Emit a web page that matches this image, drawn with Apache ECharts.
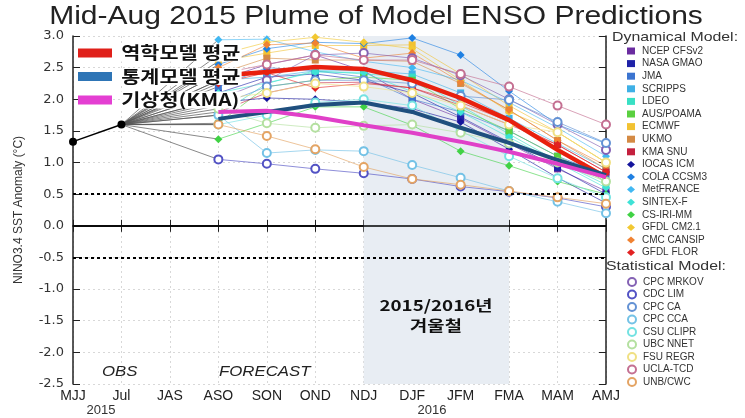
<!DOCTYPE html>
<html><head><meta charset="utf-8">
<script src="https://cdn.jsdelivr.net/npm/echarts@6/dist/echarts.min.js"></script>
<style>html,body{margin:0;padding:0;background:#fff}#c{width:745px;height:418px}</style>
</head><body><div id="c"></div>
<script>
const categories = ['MJJ','Jul','JAS','ASO','SON','OND','NDJ','DJF','JFM','FMA','MAM','AMJ'];
const yTicks = [-2.5,-2.0,-1.5,-1.0,-0.5,0.0,0.5,1.0,1.5,2.0,2.5,3.0];
const obsValues = [1.33, 1.6];
const FSTART = 3; // forecasts start at ASO

// Dynamical models (ASO .. AMJ)
const dynNames = ['NCEP CFSv2','NASA GMAO','JMA','SCRIPPS','LDEO','AUS/POAMA','ECMWF','UKMO','KMA SNU','IOCAS ICM','COLA CCSM3','MetFRANCE','SINTEX-F','CS-IRI-MM','GFDL CM2.1','CMC CANSIP','GFDL FLOR'];
const ncep      = [2.30, 2.55, 2.70, 2.45, 2.00, 1.70, 1.30, 0.90, 0.55];
const nasa      = [2.10, 2.35, 2.40, 2.30, 2.10, 1.72, 1.32, 0.92, 0.50];
const jma       = [2.20, 2.50, 2.45, 2.35, 2.00, 1.80, 1.50, 1.10, 0.80];
const scripps   = [2.30, 2.35, 2.45, 2.45, 2.40, 2.10, 1.70, 1.30, 0.90];
const ldeo      = [1.75, 2.25, 2.45, 2.40, 2.35, 1.90, 1.45, 1.02, 0.65];
const poama     = [1.62, 2.20, 2.30, 2.35, 2.30, 1.85, 1.50, 1.10, 0.70];
const ecmwf     = [2.60, 2.73, 2.85, 2.85, 2.86, 2.40, 1.90, 1.48, 1.00];
const ukmo      = [2.40, 2.65, 2.62, 2.62, 2.60, 2.25, 1.83, 1.35, 0.90];
const kmasnu    = [1.80, 2.10, 2.26, 2.27, 2.18, 1.90, 1.60, 1.28, 0.85];
const iocas     = [1.95, 2.02, 2.00, 1.95, 1.85, 1.64, 1.21, 0.76, 0.36];
const cola      = [2.55, 2.80, 2.90, 2.88, 2.97, 2.70, 2.13, 1.60, 1.30];
const metfrance = [2.94, 2.95, 2.75, 2.60, 2.50, 2.30, 1.95, 1.55, 1.10];
const sintex    = [2.10, 2.26, 2.43, 2.42, 2.12, 1.80, 1.40, 1.00, 0.60];
const csirimm   = [1.37, 1.62, 1.88, 1.88, 1.59, 1.18, 0.95, 0.70, 0.50];
const gfdlcm21  = [2.70, 2.90, 2.98, 2.90, 2.80, 2.30, 1.80, 1.48, 1.00];
const cmccansip = [2.50, 2.86, 2.89, 2.65, 2.73, 2.27, 1.83, 1.35, 0.95];
const gfdlflor  = [2.25, 2.42, 2.18, 2.25, 2.18, 1.95, 1.65, 1.28, 0.85];
const dynValues = [ncep,nasa,jma,scripps,ldeo,poama,ecmwf,ukmo,kmasnu,iocas,cola,metfrance,sintex,csirimm,gfdlcm21,cmccansip,gfdlflor];
const dynColors = ['#6a2ca0','#1f22a8','#3b74d0','#3fb0e6','#38e0c4','#5ad040','#f2c232','#d48a44','#c4203e','#14149c','#1f80e2','#42b8f2','#3ee2d6','#40d244','#f2c832','#f08232','#e22222'];
const dynIcons = ['rect','rect','rect','rect','rect','rect','rect','rect','rect','diamond','diamond','diamond','diamond','diamond','diamond','diamond','diamond'];

// Statistical models (ASO .. AMJ)
const statNames = ['CPC MRKOV','CDC LIM','CPC CA','CPC CCA','CSU CLIPR','UBC NNET','FSU REGR','UCLA-TCD','UNB/CWC'];
const mrkov  = [2.00, 2.30, 2.70, 2.73, 2.65, 2.38, 2.00, 1.60, 1.20];
const cdclim = [1.05, 0.98, 0.90, 0.83, 0.74, 0.62, 0.54, 0.44, 0.30];
const cpcca  = [1.90, 2.20, 2.30, 2.30, 2.25, 2.05, 1.99, 1.64, 1.31];
const cpccca = [1.75, 1.15, 1.20, 1.18, 0.96, 0.76, 0.55, 0.38, 0.20];
const csu    = [1.60, 1.75, 1.95, 2.00, 1.90, 1.50, 1.10, 0.75, 0.45];
const ubc    = [1.85, 1.62, 1.55, 1.58, 1.60, 1.47, 1.30, 1.00, 0.70];
const fsu    = [2.00, 2.10, 2.25, 2.20, 2.10, 1.90, 1.60, 1.48, 1.00];
const ucla   = [2.40, 2.55, 2.70, 2.62, 2.62, 2.40, 2.20, 1.90, 1.60];
const unb    = [1.60, 1.42, 1.21, 0.93, 0.74, 0.65, 0.55, 0.45, 0.35];
const statValues = [mrkov,cdclim,cpcca,cpccca,csu,ubc,fsu,ucla,unb];
const statColors = ['#8462b4','#5252c4','#6492d4','#74c2e6','#74e2e2','#b4e0a0','#f0e084','#c47092','#e4a464'];

// Means
const dynMean  = [2.37, 2.43, 2.51, 2.48, 2.30, 2.02, 1.67, 1.20, 0.77];
const statMean = [1.69, 1.80, 1.91, 1.95, 1.80, 1.55, 1.31, 1.04, 0.80];
const kmaMean  = [1.80, 1.82, 1.72, 1.59, 1.47, 1.33, 1.17, 0.98, 0.77];
const meanNames = ['역학모델 평균','통계모델 평균','기상청(KMA)'];
const meanColors = ['#e8200e','#1f4f7e','#e040c8'];
const meanKeyColors = ['#e0201a','#2e75b6','#e43fd2'];

const FONT = '"Liberation Sans", Arial, "Noto Sans CJK KR", sans-serif';
const KFONT = '"Noto Sans CJK KR", "Liberation Sans", sans-serif';

function full(vals){ const a = new Array(categories.length).fill(null); vals.forEach((v,i)=>a[FSTART+i]=v); return a; }
function conn(vals){ const a = new Array(categories.length).fill(null); a[1]=obsValues[1]; a[FSTART]=vals[0]; return a; }

const series = [];
dynValues.concat(statValues).forEach((v,i)=>{
  series.push({type:'line', name:'_c'+i, data:conn(v), connectNulls:true, symbol:'none', silent:true,
    lineStyle:{color:'#555', width:0.7}, z:2});
});
dynValues.forEach((v,i)=>{
  series.push({type:'line', name:dynNames[i], data:full(v), symbol:dynIcons[i], symbolSize:dynIcons[i]==='diamond'?8:7,
    itemStyle:{color:dynColors[i]}, lineStyle:{color:dynColors[i], width:1, opacity:0.6}, z:3});
});
statValues.forEach((v,i)=>{
  series.push({type:'line', name:statNames[i], data:full(v), symbol:'emptyCircle', symbolSize:8,
    itemStyle:{color:statColors[i], borderWidth:1.5}, lineStyle:{color:statColors[i], width:1, opacity:0.65}, z:3});
});
series.push({type:'line', name:'OBS', data:obsValues, symbol:'circle', symbolSize:8,
  itemStyle:{color:'#000'}, lineStyle:{color:'#000', width:1.5}, z:6,
  markArea:{silent:true, itemStyle:{color:'#e8edf3'}, data:[[{xAxis:'NDJ'},{xAxis:'FMA'}]]},
  markLine:{silent:true, symbol:'none', label:{show:false},
    data:[
      {yAxis:0, lineStyle:{color:'#000', width:1.5, type:'solid'}},
      {yAxis:0.5, lineStyle:{color:'#000', width:2, type:[3,3]}},
      {yAxis:-0.5, lineStyle:{color:'#000', width:2, type:[3,3]}}
    ]}
});
[dynMean, statMean, kmaMean].forEach((m,i)=>{
  series.push({type:'line', name:meanNames[i], data:full(m), symbol:'none',
    lineStyle:{color:meanColors[i], width:i===0?4.5:4}, itemStyle:{color:meanKeyColors[i]}, z:8});
});

const keyGraphics = [];
meanNames.forEach((n,i)=>{
  const cy = 53 + i*23.5;
  keyGraphics.push({type:'rect', z:100, shape:{x:78, y:cy-4.5, width:34, height:9}, style:{fill:meanKeyColors[i]}});
  keyGraphics.push({type:'text', z:101, x:120, y:cy, scaleX:1.22, style:{text:n, font:'bold 17px '+KFONT, fill:'#111',
    textVerticalAlign:'middle', backgroundColor:'#fff', padding:[0,1,0,1]}});
});

const chart = echarts.init(document.getElementById('c'), null, {renderer:'canvas'});
chart.setOption({
  animation:false,
  backgroundColor:'#fff',
  textStyle:{fontFamily:FONT},
  grid:{left:73, right:139, top:36, bottom:34},
  xAxis:[
    {type:'category', data:categories, boundaryGap:false, position:'bottom',
      axisLine:{lineStyle:{color:'#222', width:1.5}}, axisTick:{inside:true, length:6, lineStyle:{color:'#222'}},
      axisLabel:{fontSize:14, color:'#222', margin:5, fontFamily:FONT},
      splitLine:{show:true, lineStyle:{color:'#d8d8d8', type:[2,3], width:1}}},
    {type:'category', data:categories, boundaryGap:false, position:'top',
      axisLine:{lineStyle:{color:'#222', width:1.5}}, axisTick:{inside:true, length:6, lineStyle:{color:'#222'}},
      axisLabel:{show:false}, splitLine:{show:false}}
  ],
  yAxis:[
    {type:'value', min:yTicks[0], max:yTicks[yTicks.length-1], interval:0.5, position:'left',
      name:'NINO3.4 SST Anomaly (°C)', nameLocation:'middle', nameGap:48, nameRotate:90,
      nameTextStyle:{fontSize:12, color:'#333', fontFamily:FONT},
      axisLine:{show:true, lineStyle:{color:'#222', width:1.5}}, axisTick:{show:true, inside:true, length:7, lineStyle:{color:'#222'}},
      axisLabel:{fontSize:13, color:'#333', margin:9, formatter:v=>v.toFixed(1), fontFamily:'"DejaVu Sans", sans-serif'},
      splitLine:{show:true, lineStyle:{color:'#d8d8d8', type:[2,3], width:1}}},
    {type:'value', min:yTicks[0], max:yTicks[yTicks.length-1], interval:0.5, position:'right',
      axisLine:{show:true, lineStyle:{color:'#222', width:1.5}}, axisTick:{show:true, inside:true, length:7, lineStyle:{color:'#222'}},
      axisLabel:{show:false}, splitLine:{show:false}}
  ],
  legend:[
    {orient:'vertical', left:622, top:40, itemWidth:8, itemHeight:7, itemGap:0.6, selectedMode:false,
      data:dynNames.map((n,i)=>({name:n, icon:dynIcons[i]})),
      textStyle:{fontSize:10, color:'#333', lineHeight:12, fontFamily:FONT, padding:[0,0,0,2]}},
    {orient:'vertical', left:622, top:271, itemWidth:8, itemHeight:8, itemGap:0.5, selectedMode:false,
      data:statNames.map(n=>({name:n, icon:'emptyCircle'})),
      textStyle:{fontSize:10, color:'#333', lineHeight:12, fontFamily:FONT, padding:[0,0,0,2]}}
  ],
  graphic:[
    {type:'text', z:100, x:376, y:17, scaleX:1.2, style:{text:'Mid-Aug 2015 Plume of Model ENSO Predictions',
      font:'25px '+FONT, fill:'#222', textAlign:'center', textVerticalAlign:'middle'}},
    {type:'text', z:100, x:612, y:37, scaleX:1.22, style:{text:'Dynamical Model:', font:'13px '+FONT, fill:'#333', textVerticalAlign:'middle'}},
    {type:'text', z:100, x:606, y:266, scaleX:1.22, style:{text:'Statistical Model:', font:'13px '+FONT, fill:'#333', textVerticalAlign:'middle'}},
    {type:'text', z:100, x:102, y:372, scaleX:1.2, style:{text:'OBS', font:'italic 14px '+FONT, fill:'#222', textVerticalAlign:'middle'}},
    {type:'text', z:100, x:219, y:372, scaleX:1.2, style:{text:'FORECAST', font:'italic 14px '+FONT, fill:'#222', textVerticalAlign:'middle'}},
    {type:'text', z:100, x:101, y:410, style:{text:'2015', font:'13px '+FONT, fill:'#333', textAlign:'center', textVerticalAlign:'middle'}},
    {type:'text', z:100, x:432, y:410, style:{text:'2016', font:'13px '+FONT, fill:'#333', textAlign:'center', textVerticalAlign:'middle'}},
    {type:'text', z:100, x:436, y:305, scaleX:1.25, style:{text:'2015/2016년', font:'bold 15px '+KFONT, fill:'#111', textAlign:'center', textVerticalAlign:'middle'}},
    {type:'text', z:100, x:436, y:325, scaleX:1.25, style:{text:'겨울철', font:'bold 15px '+KFONT, fill:'#111', textAlign:'center', textVerticalAlign:'middle'}}
  ].concat(keyGraphics),
  series:series
});
</script></body></html>
